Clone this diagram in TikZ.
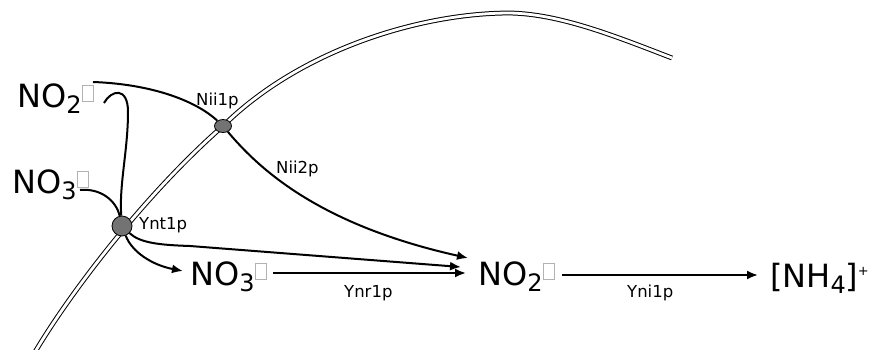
\documentclass[tikz,border=0pt]{standalone}
\usepackage{fontspec}
\setmainfont{DejaVu Sans}
\usetikzlibrary{arrows.meta,shapes.geometric}
\newcommand{\nd}{\raisebox{6pt}{\setlength{\fboxsep}{0pt}\setlength{\fboxrule}{0.8pt}\textcolor{black!30}{\fbox{\rule{0pt}{15pt}\rule{11pt}{0pt}}}}}
\newcommand{\subd}[1]{\raisebox{-6pt}{\fontsize{24}{24}\selectfont #1}}
\begin{document}
\begin{tikzpicture}[x=1pt,y=-1pt,
  big/.style={inner sep=0pt,anchor=base west,font=\fontsize{32}{32}\selectfont},
  small/.style={inner sep=0pt,anchor=base west,font=\fontsize{16.5}{16.5}\selectfont},
  enz/.style={ellipse,draw=black,line width=0.8pt,fill=black!55,inner sep=0pt},
  conn/.style={line width=2pt},
  arr/.style={line width=2pt,-{Latex[length=11pt,width=9pt]}},
  membrane/.style={double,double distance=2.8pt,line width=1pt}
]
\useasboundingbox (0,0) rectangle (873,349);
% membrane
\draw[membrane] (35,352) .. controls (75,285) and (150,190) .. (223,126)
  .. controls (300,50) and (420,13) .. (510,13)
  .. controls (560,14) and (615,36) .. (672,58);
% enzymes
\node[enz,minimum width=20pt,minimum height=20pt] (ynt) at (122,226) {};
\node[enz,minimum width=17pt,minimum height=13pt] (nii) at (223,126) {};
% species
\node[big] (no2l) at (17,107) {NO\subd{2}\nd};
\node[big] (no3l) at (12,193) {NO\subd{3}\nd};
\node[big] (no3r) at (190,285) {NO\subd{3}\nd};
\node[big] (no2r) at (478,285) {NO\subd{2}\nd};
\node[big] (nh4) at (770,287) {[NH\subd{4}]\kern-0.5pt\raisebox{12pt}{\fontsize{13}{13}\selectfont +}};
% enzyme labels
\node[small] (lnii1) at (196,105) {Nii1p};
\node[small] (lnii2) at (276,173) {Nii2p};
\node[small] (lynt) at (139,229) {Ynt1p};
\node[small] (lynr) at (344,297) {Ynr1p};
\node[small] (lyni) at (627,297) {Yni1p};
% connector end points
\coordinate (no2lout) at (93,82);
\coordinate (hook) at (104,103);
\coordinate (no3lout) at (80,190);
\coordinate (tipA) at (468,258);
\coordinate (tipB) at (183,271);
\coordinate (tipC) at (461,267);
% connectors
\draw[conn] (no2lout) .. controls (150,84) and (195,100) .. (nii);
\draw[arr] (nii) .. controls (260,170) and (320,225) .. (tipA);
\draw[conn] (hook) .. controls (111,90) and (128,86) .. (128,112) .. controls (128,150) and (119,185) .. (ynt);
\draw[conn] (no3lout) .. controls (100,188) and (116,200) .. (ynt);
\draw[arr] (ynt) .. controls (132,252) and (152,265) .. (tipB);
\draw[arr] (ynt) .. controls (140,243) and (160,245) .. (190,246) -- (tipC);
\draw[arr] ([xshift=6pt,yshift=12pt]no3r.base east) -- ([xshift=-12pt,yshift=12pt]no2r.base west);
\draw[arr] ([xshift=7pt,yshift=10pt]no2r.base east) -- ([xshift=-12pt,yshift=12pt]nh4.base west);
\end{tikzpicture}
\end{document}
